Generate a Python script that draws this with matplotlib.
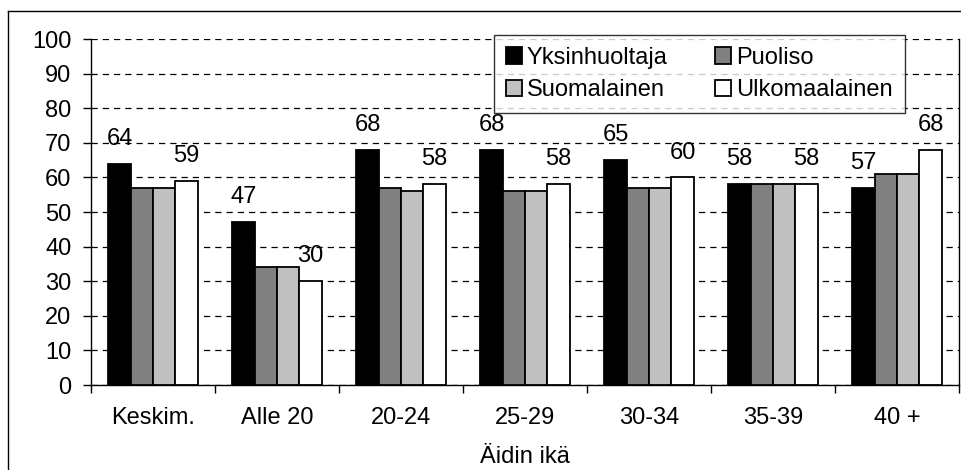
import matplotlib
matplotlib.use("Agg")
import matplotlib.pyplot as plt
from matplotlib.lines import Line2D
import numpy as np

plt.rcParams['font.family'] = ['Liberation Sans', 'DejaVu Sans']

categories = ["Keskim.", "Alle 20", "20-24", "25-29", "30-34", "35-39", "40 +"]
series_names = ["Yksinhuoltaja", "Puoliso", "Suomalainen", "Ulkomaalainen"]
yksinhuoltaja = [64, 47, 68, 68, 65, 58, 57]
puoliso = [57, 34, 57, 56, 57, 58, 61]
suomalainen = [57, 34, 56, 56, 57, 58, 61]
ulkomaalainen = [59, 30, 58, 58, 60, 58, 68]
colors = ["#000000", "#808080", "#c0c0c0", "#ffffff"]

series = [yksinhuoltaja, puoliso, suomalainen, ulkomaalainen]
labeled = {0, 3}  # only first and last series carry value labels
fs = 17

fig = plt.figure(figsize=(9.62, 4.70), dpi=100)
ax = fig.add_axes([91 / 962, 1 - 385 / 470, 868 / 962, 346 / 470])

x = np.arange(len(categories))
w = 0.18
handles = []
for i, (vals, col) in enumerate(zip(series, colors)):
    pos = x + (i - 1.5) * w
    bars = ax.bar(pos, vals, w, color=col, edgecolor='black', linewidth=1.3,
                  label=series_names[i], zorder=3)
    handles.append(bars)
    if i in labeled:
        for b, v in zip(bars, vals):
            ax.annotate(f"{v:.0f}", (b.get_x() + b.get_width() / 2, v),
                        xytext=(0, 10), textcoords='offset points',
                        ha='center', va='bottom', fontsize=fs)

ax.set_xlim(-0.5, len(categories) - 0.5)
ax.set_ylim(0, 100)
ax.set_yticks(range(0, 101, 10))
ax.yaxis.grid(True, linestyle=(0, (5, 4)), color='black', linewidth=0.9, zorder=0)
ax.set_axisbelow(True)

# ticks at category borders, labels at category centres
ax.set_xticks(np.arange(-0.5, len(categories), 1))
ax.set_xticklabels([])
ax.set_xticks(x, minor=True)
ax.set_xticklabels(categories, minor=True, fontsize=fs)
ax.tick_params(axis='x', which='major', length=6, width=1, direction='out')
ax.tick_params(axis='x', which='minor', length=0, pad=16)
ax.tick_params(axis='y', length=6, width=1, direction='out', pad=8, labelsize=fs)

ax.spines['top'].set_visible(False)
for s in ['left', 'bottom', 'right']:
    ax.spines[s].set_linewidth(1)
    ax.spines[s].set_color('black')

ax.set_xlabel("Äidin ikä", fontsize=fs, labelpad=12)

# legend fills row by row in the reference
order = [0, 2, 1, 3]
leg = ax.legend([handles[k] for k in order], [series_names[k] for k in order],
                ncol=2, loc='upper left', bbox_to_anchor=(0.464, 1.012),
                fontsize=fs, frameon=True, fancybox=False, shadow=False,
                handlelength=0.7, handleheight=0.7, handletextpad=0.2,
                columnspacing=2.0, borderpad=0.5, labelspacing=0.45,
                borderaxespad=0)
leg.get_frame().set_edgecolor('black')
leg.get_frame().set_linewidth(1)
leg.set_zorder(5)

# outer chart frame (left and top edges visible)
fig.add_artist(Line2D([8 / 962, 8 / 962], [0, 1 - 11 / 470], color='black', linewidth=1))
fig.add_artist(Line2D([8 / 962, 1], [1 - 11 / 470, 1 - 11 / 470], color='black', linewidth=1))

fig.savefig("out.png", dpi=100)
